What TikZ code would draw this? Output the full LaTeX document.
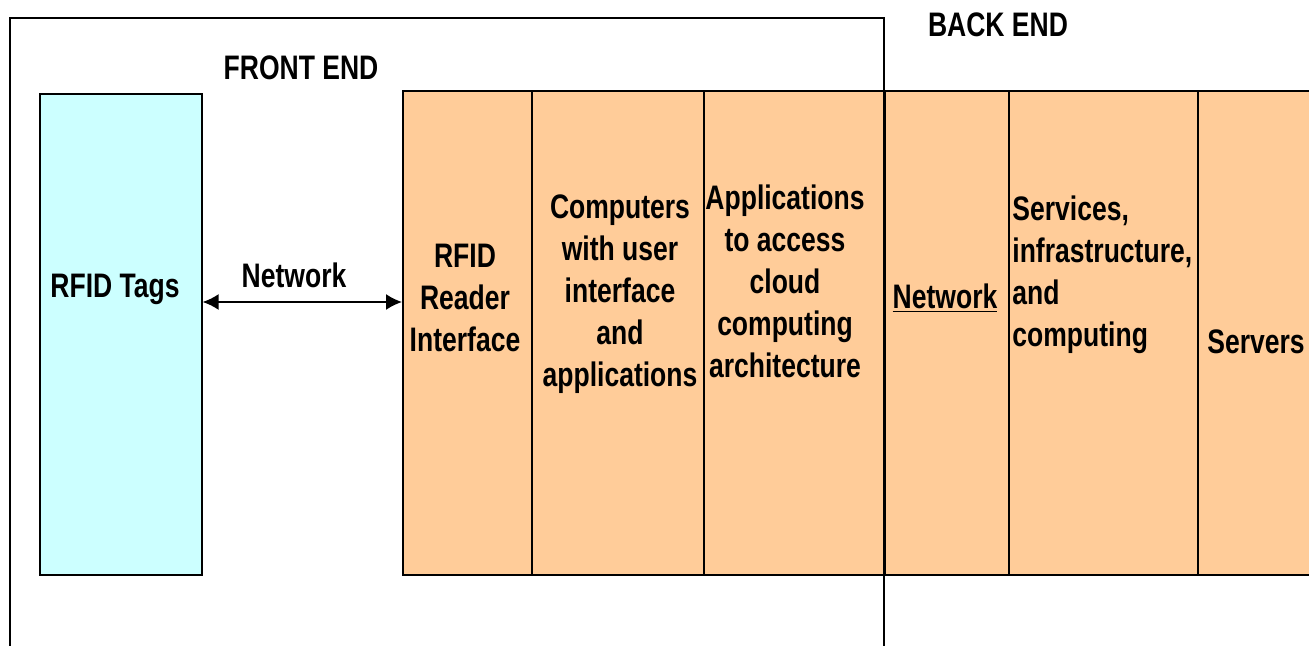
\documentclass[tikz,border=0pt]{standalone}
\usepackage{fontspec}
\newfontfamily\diagfont[FakeStretch=0.78]{Liberation Sans}
\usetikzlibrary{arrows.meta}
\definecolor{tagcyan}{HTML}{CCFFFF}
\definecolor{peach}{HTML}{FFCC99}

\begin{document}
\begin{tikzpicture}[x=0.5pt,y=-0.5pt,
        txt/.style={font={\diagfont\bfseries\fontsize{17}{21}\selectfont},inner sep=0pt,align=center},
        col/.style={draw=black,line width=0.8pt,fill=peach,anchor=north west,inner sep=0pt,minimum height=242pt}]
            \clip (0,0) rectangle (1309,646);
            \node[draw=black,line width=0.8pt,fill=tagcyan,anchor=north west,inner sep=0pt,
                minimum width=81pt,minimum height=240.5pt] (tags) at (39,93) {};
            \foreach \name/\xa/\xb in {reader/402/531,computers/531/703,apps/703/884,
                backnet/884/1008,services/1008/1197,servers/1197/1330}{
                \node[col,minimum width={(\xb-\xa)*0.5pt}] (\name) at (\xa,90) {};
            }
            \draw[line width=0.8pt] (10,650) |- (884,18) -- (884,650);

            \node[txt] (tagstxt) at (115,289) {RFID Tags};
            \node[txt] (frontend) at (301,68) {FRONT END};
            \node[txt] (backend) at (998,25) {BACK END};
            \node[txt] (nettxt) at (294,275) {Network};
            \coordinate (netarrow) at (0,302);
            \draw[line width=0.9pt,{Latex[length=8pt,width=8pt]}-{Latex[length=8pt,width=8pt]}]
                (tags.east |- netarrow) -- (reader.west |- netarrow);

            \node[txt] (readertxt) at (465,298) {RFID\\Reader\\Interface};
            \node[txt] (computerstxt) at (620,294) {Computers\\with user\\interface\\and\\applications};
            \node[txt] (appstxt) at (785,281) {Applications\\to access\\cloud\\computing\\architecture};
            \node[txt] (backnettxt) at (945,298) {\underline{Network}};
            \node[txt,align=left,anchor=west] (servicestxt) at (1012,275) {Services,\\infrastructure,\\and\\computing};
            \node[txt] (serverstxt) at (1256,342) {Servers};
        \end{tikzpicture}
\end{document}
